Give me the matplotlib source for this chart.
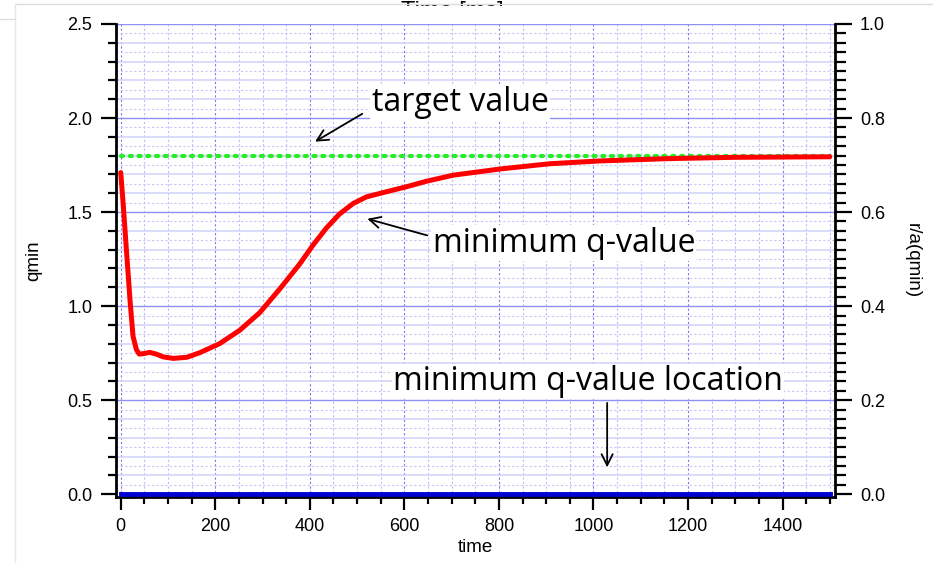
import matplotlib
matplotlib.use('Agg')
import matplotlib.pyplot as plt
import numpy as np
from matplotlib.ticker import MultipleLocator, FormatStrFormatter
from matplotlib.lines import Line2D
from matplotlib.patches import Rectangle

# data
t = [0, 5, 12, 20, 26, 33, 39, 50, 61, 75, 90, 111, 140, 167, 209, 252, 294, 336,
     379, 407, 435, 463, 492, 520, 562, 605, 647, 703, 802, 908, 1014, 1155, 1296, 1500]
qmin = [1.71, 1.55, 1.30, 1.02, 0.84, 0.77, 0.745, 0.748, 0.754, 0.745, 0.73, 0.722,
        0.728, 0.752, 0.80, 0.872, 0.965, 1.09, 1.225, 1.325, 1.415, 1.49, 1.546, 1.581,
        1.608, 1.635, 1.664, 1.696, 1.729, 1.757, 1.772, 1.784, 1.791, 1.794]
target = 1.8
t_loc = [0, 1500]
rho_loc = [0.0, 0.0]

xticks = [0, 200, 400, 600, 800, 1000, 1200, 1400]

plt.rcParams['font.family'] = ['Liberation Sans', 'DejaVu Sans']

fig = plt.figure(figsize=(9.33, 5.63), dpi=100)
ax = fig.add_axes([116/933, 1-497/563, (835-116)/933, (497-24)/563])
ax2 = ax.twinx()

ylo, yhi = -0.015, 2.5
ax.set_xlim(-10, 1511)
ax.set_ylim(ylo, yhi)
ax2.set_ylim(ylo/2.5, yhi/2.5)

# grid
for v in np.arange(0, 1551, 50):
    if v % 200 == 0:
        ax.axvline(v, color='#7878f4', lw=0.8, ls=(0, (2, 2)), zorder=0)
    else:
        ax.axvline(v, color='#bcbcf8', lw=0.8, ls=(0, (2, 2)), zorder=0)
for v in np.arange(0.05, 2.5, 0.1):
    ax.axhline(v, color='#c8c8f8', lw=0.8, ls=(0, (2, 2)), zorder=0)
for v in np.arange(0.1, 2.5, 0.1):
    if abs(v/0.5 - round(v/0.5)) > 1e-6:
        ax.axhline(v, color='#d4d4fa', lw=1.2, zorder=0)
for v in [0.5, 1.0, 1.5, 2.0, 2.5]:
    ax.axhline(v, color='#9090f4', lw=1.0, zorder=0)

ax.plot(t_loc, rho_loc, color='#0000d0', lw=3.5, zorder=3)
ax.plot([0, 1500], [target, target], color='#22ee22', lw=3, ls=(0, (0.5, 1.6)),
        dash_capstyle='round', zorder=3)
ax.plot(t, qmin, color='red', lw=3.6, zorder=4, solid_capstyle='round',
        solid_joinstyle='round')

# axes styling
ax.spines['top'].set_visible(False)
ax2.spines['top'].set_visible(False)
for s in ['left', 'bottom']:
    ax.spines[s].set_linewidth(2)
ax2.spines['right'].set_linewidth(2)
ax.set_xticks(xticks)
ax.xaxis.set_minor_locator(MultipleLocator(50))
ax.yaxis.set_major_locator(MultipleLocator(0.5))
ax.yaxis.set_minor_locator(MultipleLocator(0.1))
ax2.yaxis.set_major_locator(MultipleLocator(0.2))
ax2.yaxis.set_minor_locator(MultipleLocator(0.02))
ax.yaxis.set_major_formatter(FormatStrFormatter('%.1f'))
ax2.yaxis.set_major_formatter(FormatStrFormatter('%.1f'))
ax.tick_params(axis='y', which='major', length=11, width=1.6, labelsize=13, pad=6)
ax.tick_params(axis='y', which='minor', length=6, width=1.6)
ax.tick_params(axis='x', which='major', length=9, width=1.6, labelsize=13, pad=6)
ax.tick_params(axis='x', which='minor', length=5, width=1.6)
ax2.tick_params(axis='y', which='major', length=12, width=1.6, labelsize=13, pad=6)
ax2.tick_params(axis='y', which='minor', length=8, width=1.6)

ax.set_xlabel('time', fontsize=13.5, labelpad=3)
ax.set_ylabel('qmin', fontsize=13.5, labelpad=18)
ax2.set_ylabel('r/a(qmin)', fontsize=13.5, rotation=-90, labelpad=26)

# annotations
afont = dict(family=['Open Sans', 'DejaVu Sans'], fontsize=23)
bbox = dict(facecolor='white', edgecolor='none', pad=1)
arrow = dict(arrowstyle='->', color='black', lw=1.3, mutation_scale=20)
ax.annotate('', xy=(406, 1.867), xytext=(516, 2.03), arrowprops=arrow)
ax.text(531, 2.085, 'target value', va='center', ha='left', bbox=bbox, zorder=6, **afont)
ax.annotate('', xy=(516, 1.468), xytext=(654, 1.372), arrowprops=arrow)
ax.text(660, 1.335, 'minimum q-value', va='center', ha='left', bbox=bbox, zorder=6, **afont)
ax.text(576, 0.6, 'minimum q-value location', va='center', ha='left', bbox=bbox,
        zorder=6, **afont)
ax.annotate('', xy=(1029, 0.128), xytext=(1029, 0.5), arrowprops=arrow)

# screenshot remnants: a title mostly hidden behind the plot panel
fig.text(452/933, 1-1/563, 'Time [ms]', fontsize=17, ha='center', va='top', zorder=-3)
fig.add_artist(Rectangle((15/933, 0), 1-15/933, 1-6/563, transform=fig.transFigure,
                         facecolor='white', edgecolor='none', zorder=-2))
fig.add_artist(Line2D([15/933, 1], [1-4/563, 1-4/563], color='#dddddd', lw=1, zorder=-1))
fig.add_artist(Line2D([15/933, 15/933], [0, 1-4/563], color='#e6e6e6', lw=1, zorder=-1))
fig.add_artist(Line2D([0, 15/933], [1-19/563, 1-19/563], color='#dddddd', lw=1, zorder=-1))

fig.savefig('out.png', dpi=100)
